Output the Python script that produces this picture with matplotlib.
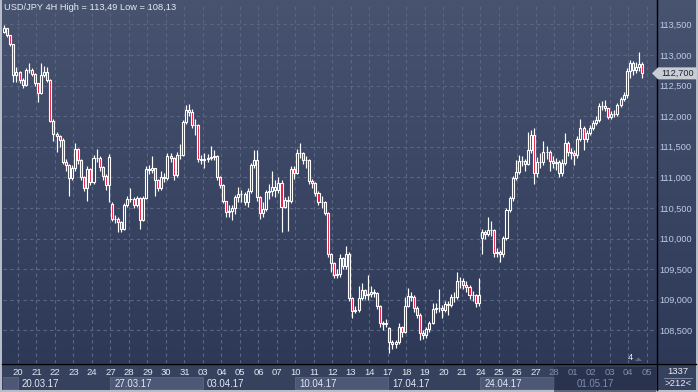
import matplotlib
matplotlib.use("Agg")
import matplotlib.pyplot as plt
import numpy as np
from matplotlib.colors import LinearSegmentedColormap
from matplotlib.patches import Rectangle, Polygon
from matplotlib.lines import Line2D

# ---------------- data (USD/JPY 4H, candle index -5 .. 202) ----------------
opens = [
    113.38, 113.44, 113.33, 113.18, 112.67,
    112.72, 112.59, 112.51, 112.75, 112.75, 112.69,
    112.54, 112.38, 112.67, 112.72, 112.59, 111.92,
    111.71, 111.68, 111.61, 111.25, 111.20, 110.99,
    111.15, 111.46, 111.28, 111.01, 110.83, 111.14,
    110.92, 111.32, 111.32, 111.17, 111.02, 110.88,
    110.56, 110.32, 110.32, 110.27, 110.16, 110.55,
    110.65, 110.65, 110.55, 110.66, 110.30, 110.66,
    111.14, 111.12, 111.15, 110.96, 110.83, 111.01,
    110.99, 111.35, 111.32, 111.04, 111.37, 111.37,
    111.91, 112.10, 112.07, 111.86, 111.86, 111.30,
    111.28, 111.30, 111.32, 111.33, 111.35, 111.01,
    110.88, 110.61, 110.43, 110.45, 110.50, 110.68,
    110.73, 110.73, 110.60, 110.78, 111.20, 111.28,
    110.68, 110.42, 110.48, 110.76, 110.78, 110.84,
    110.79, 110.91, 110.52, 110.63, 110.61, 111.14,
    111.07, 111.40, 111.40, 111.28, 111.28, 110.94,
    110.91, 110.75, 110.60, 110.60, 110.42, 109.75,
    109.60, 109.41, 109.42, 109.68, 109.55, 109.75,
    109.03, 108.82, 108.83, 109.03, 109.16, 109.08,
    109.10, 109.13, 109.11, 108.90, 108.62, 108.60,
    108.54, 108.31, 108.28, 108.31, 108.56, 108.47,
    108.90, 109.06, 109.05, 108.87, 108.75, 108.46,
    108.42, 108.52, 108.62, 108.85, 108.87, 108.87,
    108.83, 108.93, 108.92, 109.05, 109.05, 109.31,
    109.31, 109.24, 109.21, 109.08, 109.08, 108.95,
    110.01, 110.11, 110.08, 110.14, 110.14, 109.77,
    109.78, 109.75, 110.01, 110.47, 110.66, 110.99,
    111.09, 111.27, 111.27, 111.22, 111.45, 111.69,
    111.07, 111.25, 111.25, 111.41, 111.41, 111.27,
    111.24, 111.25, 111.07, 111.24, 111.56, 111.41,
    111.40, 111.37, 111.63, 111.81, 111.63, 111.73,
    111.81, 111.89, 111.94, 112.17, 112.17, 112.13,
    111.99, 112.04, 112.04, 112.18, 112.28, 112.35,
    112.74, 112.87, 112.75, 112.80, 112.85,
]
closes = [
    113.44, 113.33, 113.18, 112.67, 112.72,
    112.59, 112.51, 112.75, 112.75, 112.69, 112.54,
    112.38, 112.67, 112.72, 112.59, 111.92, 111.71,
    111.68, 111.61, 111.25, 111.20, 110.99, 111.15,
    111.46, 111.28, 111.01, 110.83, 111.14, 110.92,
    111.32, 111.32, 111.17, 111.02, 110.88, 111.33,
    110.32, 110.32, 110.27, 110.16, 110.55, 110.65,
    110.65, 110.55, 110.66, 110.30, 110.66, 111.14,
    111.12, 111.15, 110.96, 110.83, 111.01, 110.99,
    111.35, 111.32, 111.04, 111.37, 111.37, 111.91,
    112.10, 112.07, 111.86, 111.86, 111.30, 111.28,
    111.30, 111.32, 111.33, 111.35, 111.01, 110.88,
    110.61, 110.43, 110.45, 110.50, 110.68, 110.73,
    110.73, 110.60, 110.78, 111.20, 111.28, 110.68,
    110.42, 110.48, 110.76, 110.78, 110.84, 110.79,
    110.91, 110.52, 110.63, 110.61, 111.14, 111.07,
    111.40, 111.40, 111.28, 111.28, 110.94, 110.91,
    110.75, 110.60, 110.60, 110.42, 109.75, 109.60,
    109.41, 109.42, 109.68, 109.55, 109.75, 109.03,
    108.82, 108.83, 109.03, 109.16, 109.08, 109.10,
    109.13, 109.11, 108.90, 108.62, 108.60, 108.62,
    108.31, 108.28, 108.31, 108.56, 108.47, 108.90,
    109.06, 109.05, 108.87, 108.75, 108.46, 108.42,
    108.52, 108.62, 108.85, 108.87, 108.87, 108.83,
    108.93, 108.92, 109.05, 109.05, 109.31, 109.31,
    109.24, 109.21, 109.08, 109.08, 108.95, 109.08,
    110.11, 110.08, 110.14, 110.14, 109.77, 109.78,
    109.75, 110.01, 110.47, 110.66, 110.99, 111.09,
    111.27, 111.27, 111.22, 111.45, 111.69, 111.07,
    111.25, 111.25, 111.41, 111.41, 111.27, 111.24,
    111.25, 111.07, 111.24, 111.56, 111.41, 111.40,
    111.37, 111.63, 111.81, 111.63, 111.73, 111.81,
    111.89, 111.94, 112.17, 112.17, 112.13, 111.99,
    112.04, 112.04, 112.18, 112.28, 112.35, 112.74,
    112.87, 112.75, 112.80, 112.85, 112.70,
]
highs = [
    113.49, 113.44, 113.33, 113.18, 112.80,
    112.74, 112.62, 112.78, 112.87, 112.78, 112.70,
    112.55, 112.87, 112.82, 112.80, 112.60, 111.95,
    111.74, 111.70, 111.64, 111.30, 111.22, 111.20,
    111.56, 111.48, 111.30, 111.02, 111.18, 111.15,
    111.36, 111.46, 111.35, 111.18, 111.05, 111.38,
    110.60, 110.38, 110.36, 110.28, 110.58, 110.70,
    110.82, 110.68, 110.70, 110.68, 110.70, 111.18,
    111.20, 111.35, 111.16, 110.98, 111.10, 111.08,
    111.40, 111.40, 111.34, 111.42, 111.55, 111.94,
    112.18, 112.20, 112.12, 111.95, 111.88, 111.36,
    111.40, 111.38, 111.52, 111.45, 111.36, 111.02,
    110.90, 110.62, 110.55, 110.55, 110.72, 110.84,
    110.80, 110.76, 110.82, 111.24, 111.45, 111.45,
    110.70, 110.60, 110.80, 110.90, 111.10, 110.95,
    111.00, 110.95, 110.68, 110.70, 111.18, 111.18,
    111.46, 111.56, 111.42, 111.35, 111.30, 110.98,
    110.92, 110.78, 110.70, 110.62, 110.44, 109.76,
    109.62, 109.50, 109.75, 109.70, 109.88, 109.78,
    109.05, 108.90, 109.22, 109.28, 109.18, 109.40,
    109.22, 109.18, 109.12, 108.92, 108.66, 108.68,
    108.56, 108.34, 108.35, 108.62, 108.58, 109.05,
    109.20, 109.12, 109.08, 108.90, 108.78, 108.50,
    108.56, 108.66, 108.95, 108.95, 109.18, 108.92,
    108.98, 108.98, 109.10, 109.12, 109.45, 109.38,
    109.35, 109.30, 109.25, 109.15, 109.10, 109.35,
    110.15, 110.14, 110.35, 110.28, 110.16, 109.85,
    109.82, 110.05, 110.50, 110.70, 111.02, 111.28,
    111.36, 111.35, 111.30, 111.75, 111.78, 111.80,
    111.34, 111.40, 111.60, 111.52, 111.45, 111.35,
    111.32, 111.28, 111.30, 111.72, 111.60, 111.48,
    111.45, 111.68, 111.96, 111.84, 111.78, 111.86,
    111.94, 112.00, 112.22, 112.25, 112.26, 112.14,
    112.08, 112.10, 112.22, 112.32, 112.40, 112.78,
    112.92, 112.90, 112.88, 113.05, 112.88,
]
lows = [
    113.36, 113.30, 113.15, 112.56, 112.56,
    112.55, 112.46, 112.50, 112.70, 112.66, 112.50,
    112.23, 112.36, 112.64, 112.56, 111.90, 111.60,
    111.41, 111.50, 111.22, 111.10, 110.70, 110.95,
    111.10, 111.22, 110.95, 110.78, 110.62, 110.88,
    110.90, 111.25, 111.10, 110.95, 110.80, 110.60,
    110.28, 110.25, 110.11, 110.10, 110.14, 110.52,
    110.60, 110.50, 110.52, 110.16, 110.28, 110.64,
    111.05, 111.08, 110.70, 110.78, 110.80, 110.92,
    110.95, 111.25, 110.95, 111.00, 111.30, 111.35,
    111.88, 112.00, 111.80, 111.70, 111.25, 111.22,
    111.15, 111.25, 111.28, 111.28, 110.96, 110.82,
    110.58, 110.36, 110.35, 110.30, 110.40, 110.60,
    110.60, 110.55, 110.52, 110.75, 111.15, 110.62,
    110.32, 110.35, 110.45, 110.65, 110.70, 110.68,
    110.75, 110.11, 110.50, 110.12, 110.58, 110.98,
    111.05, 111.32, 111.22, 111.15, 110.90, 110.82,
    110.70, 110.55, 110.50, 110.38, 109.70, 109.45,
    109.36, 109.35, 109.38, 109.50, 109.50, 108.98,
    108.71, 108.78, 108.80, 109.00, 109.02, 109.00,
    109.05, 109.05, 108.85, 108.55, 108.50, 108.55,
    108.13, 108.20, 108.22, 108.28, 108.40, 108.45,
    108.88, 108.98, 108.80, 108.70, 108.35, 108.36,
    108.38, 108.48, 108.60, 108.78, 108.80, 108.70,
    108.80, 108.75, 108.88, 108.96, 109.02, 109.20,
    109.18, 109.12, 109.02, 108.98, 108.88, 108.90,
    109.75, 110.00, 110.05, 110.05, 109.70, 109.70,
    109.62, 109.70, 109.98, 110.44, 110.62, 110.95,
    111.05, 111.18, 111.10, 111.20, 111.40, 110.90,
    111.00, 111.15, 111.20, 111.30, 111.10, 111.15,
    111.12, 111.00, 111.02, 111.20, 111.35, 111.30,
    111.20, 111.32, 111.60, 111.45, 111.58, 111.70,
    111.78, 111.85, 111.90, 112.10, 112.08, 111.95,
    111.95, 111.98, 112.00, 112.15, 112.25, 112.30,
    112.62, 112.68, 112.70, 112.74, 112.62,
]
first_index = -5
day_labels = ['20', '21', '22', '23', '24', '27', '28', '29', '30', '31',
              '03', '04', '05', '06', '07', '10', '11', '12', '13', '14',
              '17', '18', '19', '20', '21', '24', '25', '26', '27', '28',
              '01', '02', '03', '04', '05']
week_labels = ['20.03.17', '27.03.17', '03.04.17', '10.04.17',
               '17.04.17', '24.04.17', '01.05.17']
price_ticks = [108.5, 109.0, 109.5, 110.0, 110.5, 111.0, 111.5, 112.0, 112.5, 113.0, 113.5]
title = 'USD/JPY 4H High = 113,49 Low = 108,13'
last_price = 112.70
bars_per_day = 6
days_per_week = 5
dim_from_day = 29   # day index where the darker "future" shade begins

# ---------------- layout ----------------
W, H = 698, 392
FONT = 'Liberation Sans'
plt.rcParams['font.family'] = [FONT, 'DejaVu Sans']

def fx(px):
    return px / W

def fy(py):
    return 1 - py / H

fig = plt.figure(figsize=(W / 100, H / 100), dpi=100)
fig.patch.set_facecolor('#b7bdc8')

# background gradient (whole inner area)
bg = fig.add_axes([fx(2), fy(390), fx(694), 390 / H])
bg.set_zorder(0)
bg.set_axis_off()
cmap_bg = LinearSegmentedColormap.from_list('bg', ['#47536f', '#2c3756'])
grad = np.linspace(0, 1, 256).reshape(-1, 1)
bg.imshow(grad, cmap=cmap_bg, aspect='auto', extent=[0, 1, 0, 1], origin='upper')
bg.set_xlim(0, 1)
bg.set_ylim(0, 1)

# bottom panel (drawn inside the background axes, pixel coords via figure transform)
bg.add_patch(Rectangle((fx(2), fy(390)), fx(694), (390 - 363) / H,
                       transform=fig.transFigure, facecolor='#36415d',
                       edgecolor='none', zorder=3))

PX0, PXC = 19.54, 3.082  # candle center pixel = PX0 + PXC * i
x_left = (3 - PX0) / PXC
x_right = (656 - PX0) / PXC

# week label row (below main axes in z-order)
wk = fig.add_axes([fx(3), fy(390), fx(653), (390 - 377) / H])
wk.set_zorder(1)
wk.set_xlim(x_left, x_right)
wk.set_ylim(0, 1)
wk.set_axis_off()
week_len = bars_per_day * days_per_week
dim_x = bars_per_day * dim_from_day - 0.5
for w in range(-1, len(week_labels)):
    x0 = week_len * w - 0.5
    if w % 2 == 1 or w == -1:
        x1 = min(x0 + week_len, dim_x)
        wk.add_patch(Rectangle((x0, 0.05), x1 - x0, 0.95, facecolor='#4c5875',
                               edgecolor='#5b6783', lw=0.6))
# dark shade on the right of the bottom panel
wk.add_patch(Rectangle((dim_x, -0.2), x_right - dim_x, 2.0, facecolor='#222b44',
                       alpha=0.6, edgecolor='none', clip_on=False, zorder=2))
for w, lab in enumerate(week_labels):
    x0 = week_len * w - 0.5
    col = '#e2e8f2' if x0 < dim_x else '#7f8dad'
    wk.text(x0 + 1.3, 0.48, lab, color=col, fontsize=6.9, va='center', ha='left', zorder=3)

# main axes
ax = fig.add_axes([fx(3), fy(363), fx(653), (363 - 3) / H])
ax.set_zorder(2)
ax.set_facecolor('none')
ax.set_xlim(x_left, x_right)
y_bottom = 113 - (363 - 55) / 61.2
y_top = 113 + (55 - 3) / 61.2
ax.set_ylim(y_bottom, y_top)
for s in ax.spines.values():
    s.set_visible(False)

grid_col = '#5a6682'
for p in price_ticks:
    ax.axhline(p, color=grid_col, lw=0.8, ls=(0, (3, 3)), zorder=1)
n_days = len(day_labels)
day_pos = [bars_per_day * k - 0.5 for k in range(n_days)]
for xpos in day_pos:
    ax.axvline(xpos, color=grid_col, lw=0.8, ls=(0, (3, 3)), zorder=1)

# candles
idx = np.arange(first_index, first_index + len(closes))
o = np.array(opens); c = np.array(closes); h = np.array(highs); l = np.array(lows)
top = np.maximum(o, c); bot = np.minimum(o, c)
ax.vlines(idx, top, h, color='white', lw=0.85, zorder=3)
ax.vlines(idx, l, bot, color='white', lw=0.85, zorder=3)
down = c < o
face = ['#e3173e' if d else '#35415e' for d in down]
ax.bar(idx, top - bot, bottom=bot, width=0.66, color=face, edgecolor='white',
       linewidth=0.8, zorder=4)

# right price labels
ax.yaxis.tick_right()
ax.set_yticks(price_ticks)
ax.set_yticklabels([f'{p:,.3f}'.replace('.', ',') for p in price_ticks])
ax.tick_params(axis='y', length=0, pad=2.5, labelsize=6.6, labelcolor='#bccbe6')
# bottom day labels
ax.set_xticks(day_pos)
ax.set_xticklabels(day_labels)
ax.tick_params(axis='x', length=0, pad=3.5, labelsize=6.8, labelcolor='#e2e8f2')
for k, t in enumerate(ax.get_xticklabels()):
    if k >= dim_from_day:
        t.set_color('#7f8dad')

# separator lines
fig.add_artist(Line2D([fx(656.5), fx(656.5)], [fy(390), fy(0)], color='black', lw=1.0,
                      transform=fig.transFigure, zorder=6))
fig.add_artist(Line2D([fx(2), fx(696)], [fy(363.5), fy(363.5)], color='black', lw=1.0,
                      transform=fig.transFigure, zorder=6))

# title
fig.text(fx(4), fy(8), title, color='#e6eaf2', fontsize=6.7, va='center', ha='left', zorder=6)

# last price marker
yp = 55 + (113 - last_price) * 61.2
marker = Polygon([(fx(652), fy(yp)), (fx(658), fy(yp - 6)), (fx(697), fy(yp - 6)),
                  (fx(697), fy(yp + 6)), (fx(658), fy(yp + 6))], closed=True,
                 transform=fig.transFigure, facecolor='#c9cdd4', edgecolor='none', zorder=7)
fig.add_artist(marker)
fig.text(fx(677.5), fy(yp), f'{last_price:,.3f}'.replace('.', ','), color='#1b2236',
         fontsize=6.6, va='center', ha='center', zorder=8)

# bottom right box
fig.text(fx(678), fy(371), '1337', color='#e8ecf4', fontsize=6.8, va='center', ha='center', zorder=6)
fig.add_artist(Line2D([fx(664), fx(692)], [fy(377.5), fy(377.5)], color='#7d8aa6', lw=0.7,
                      transform=fig.transFigure, zorder=6))
fig.text(fx(678), fy(384), '>212<', color='#e8ecf4', fontsize=6.8, va='center', ha='center', zorder=6)

# small marker near bottom of plot
fig.text(fx(630), fy(358), '4', color='#e8ecf4', fontsize=6.8, va='center', ha='center', zorder=6)
fig.add_artist(Polygon([(fx(635), fy(361)), (fx(638.5), fy(357.5)), (fx(642), fy(361))],
                       closed=True, transform=fig.transFigure, facecolor='#5d6883',
                       edgecolor='none', zorder=6))

fig.savefig('out.png', dpi=100)
